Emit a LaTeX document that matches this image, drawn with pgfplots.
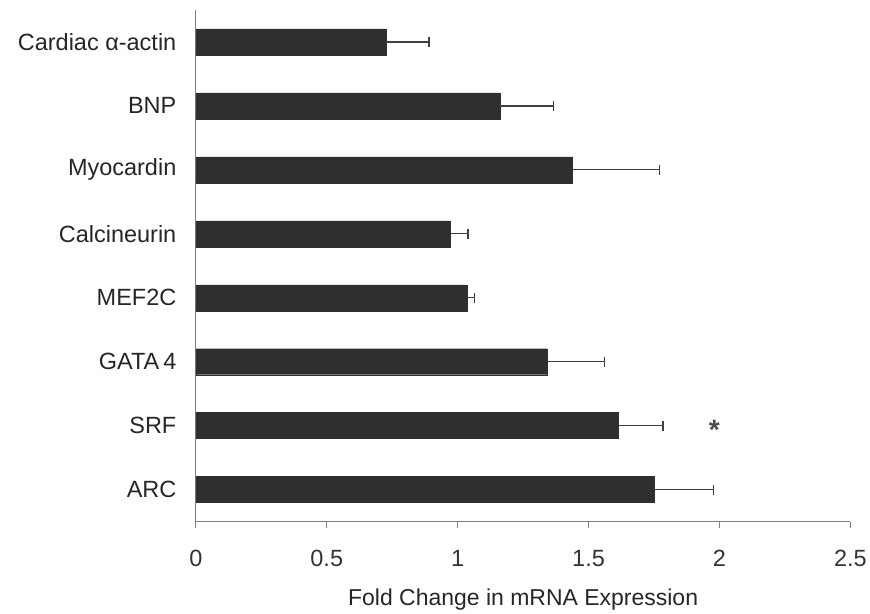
\documentclass[border=0pt]{standalone}
\usepackage{pgfplots}
\pgfplotsset{compat=1.18}
\usepackage{fontspec}
\setmainfont{Liberation Sans}
\definecolor{barcol}{HTML}{2F2F2F}
\definecolor{axcol}{HTML}{808080}
\begin{document}
\begin{tikzpicture}
\begin{axis}[
  scale only axis, width=655pt, height=512pt,
  xmin=0, xmax=2.5, ymin=-0.5, ymax=7.5,
  axis lines*=left,
  axis line style={axcol, line width=1pt},
  xtick={0,0.5,1,1.5,2,2.5},
  xticklabels={0,0.5,1,1.5,2,2.5},
  xticklabel style={font=\fontsize{23.5}{26}\selectfont, text=black!80, yshift=-19pt},
  ytick={0,1,2,3,4,5,6,7},
  yticklabels={ARC,SRF,GATA\,4,MEF2C,Calcineurin,Myocardin,BNP,Cardiac α-actin},
  yticklabel style={font=\fontsize{23.5}{26}\selectfont, text=black!85, xshift=-10pt},
  minor ytick={-0.5,0.5,1.5,2.5,3.5,4.5,5.5,6.5,7.5},
  major tick length=6pt,
  ytick style={draw=none},
  minor tick length=9pt,
  tick align=outside,
  x tick style={axcol, line width=1pt},
  minor y tick style={axcol, line width=1pt},
  xlabel={Fold Change in mRNA Expression},
  xlabel style={font=\fontsize{23}{26}\selectfont, text=black!85, yshift=-15pt},
  clip=false,
]
\addplot[xbar, bar width=26pt, fill=barcol, draw=barcol,
  error bars/.cd, x dir=plus, x explicit, error mark=|,
  error bar style={line width=1.2pt, color=black!75},
  error mark options={line width=1.4pt, mark size=5pt, color=black!75}]
 coordinates {
  (1.752,0) +- (0.226,0)
  (1.615,1) +- (0.169,0)
  (1.342,2) +- (0.219,0)
  (1.036,3) +- (0.029,0)
  (0.973,4) +- (0.067,0)
  (1.439,5) +- (0.332,0)
  (1.162,6) +- (0.204,0)
  (0.728,7) +- (0.162,0)
 };
\node[font=\bfseries\fontsize{28}{28}\selectfont, text=black!70] at (axis cs:1.98,0.93) {*};
\end{axis}
\path ([xshift=-196pt,yshift=-92pt]current axis.south west) rectangle ([xshift=19pt,yshift=10pt]current axis.north east);
\end{tikzpicture}
\end{document}
